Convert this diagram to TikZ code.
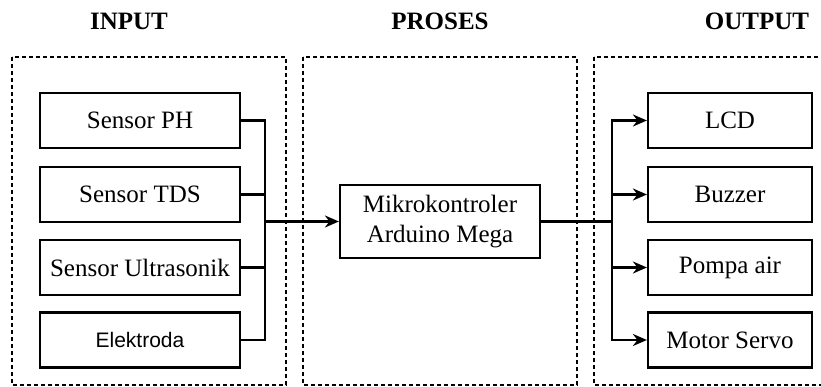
\documentclass[tikz,border=0pt]{standalone}
\usepackage{fontspec}
\setmainfont{Liberation Serif}
\newfontfamily\arialf{Liberation Sans}
\usetikzlibrary{arrows.meta}
\begin{document}
\begin{tikzpicture}[x=1pt,y=-1pt,
  blk/.style={draw=black,line width=2.2pt,minimum width=200pt,minimum height=55pt,inner sep=0pt,font=\fontsize{25}{27}\selectfont},
  group/.style={draw=black,line width=1.6pt,dash pattern=on 4pt off 3pt},
  ttl/.style={font=\fontsize{25}{27}\selectfont\bfseries},
  wire/.style={draw=black,line width=2.2pt},
  arr/.style={wire,-{Stealth[length=14pt,width=12pt]}}]
\useasboundingbox (0,0) rectangle (821,387);
% group boxes
\draw[group] (12,57) rectangle (286,385);
\draw[group] (303,57) rectangle (577,385);
\draw[group] (594,57) rectangle (840,385);
% titles
\node[ttl] (tin) at (129,21) {INPUT};
\node[ttl] (tpr) at (440,21) {PROSES};
\node[ttl] (tout) at (757,21) {OUTPUT};
% input blocks
\node[blk] (ph) at (140,120.5) {Sensor PH};
\node[blk] (tds) at (140,194.5) {Sensor TDS};
\node[blk] (us) at (140,267.5) {Sensor Ultrasonik};
\node[blk,font=\arialf\fontsize{21}{23}\selectfont] (el) at (140,340) {Elektroda};
% process
\node[blk,minimum height=73pt,align=center,font=\fontsize{25}{30}\selectfont] (mcu) at (440,221.5) {Mikrokontroler\\Arduino Mega};
% output blocks
\node[blk,minimum width=164pt] (lcd) at (730,120.5) {LCD};
\node[blk,minimum width=164pt] (buz) at (730,194.5) {Buzzer};
\node[blk,minimum width=164pt] (pom) at (730,267.5) {Pompa air};
\node[blk,minimum width=164pt] (mot) at (730,340) {Motor Servo};
% buses
\coordinate (bin) at (265,221.5);
\coordinate (bout) at (612,221.5);
\draw[wire] (ph.east) -| (bin);
\draw[wire] (tds.east) -| (bin);
\draw[wire] (us.east) -| (bin);
\draw[wire] (el.east) -| (bin);
\draw[arr] (bin) -- (mcu.west);
\draw[wire] (mcu.east) -- (bout);
\draw[arr] (bout) |- (lcd.west);
\draw[arr] (bout) |- (buz.west);
\draw[arr] (bout) |- (pom.west);
\draw[arr] (bout) |- (mot.west);
\end{tikzpicture}
\end{document}
